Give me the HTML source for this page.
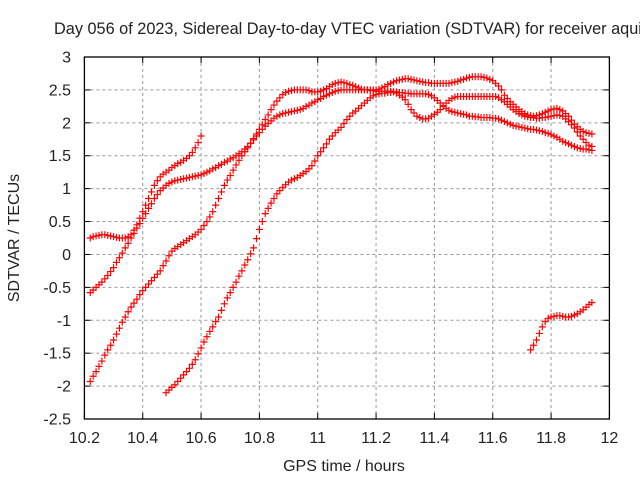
<!DOCTYPE html>
<html><head><meta charset="utf-8"><style>
html,body{margin:0;padding:0;background:#fff;width:640px;height:480px;overflow:hidden}
text{font-family:"Liberation Sans",sans-serif;fill:#222}
</style></head><body>
<svg id="chart" width="640" height="480" xmlns="http://www.w3.org/2000/svg">
<text x="54" y="34" font-size="16.3">Day 056 of 2023, Sidereal Day-to-day VTEC variation (SDTVAR) for receiver aqui</text>
<g id="grid"></g>
<g id="axes"></g>
<g id="series"></g>
<text x="344" y="471" font-size="16" text-anchor="middle">GPS time / hours</text>
<text transform="translate(19,238) rotate(-90)" font-size="16" text-anchor="middle">SDTVAR / TECUs</text>
</svg>
<script>
const xTicks = [10.2,10.4,10.6,10.8,11,11.2,11.4,11.6,11.8,12];
const xTickLabels = ["10.2","10.4","10.6","10.8","11","11.2","11.4","11.6","11.8","12"];
const yTicks = [-2.5,-2,-1.5,-1,-0.5,0,0.5,1,1.5,2,2.5,3];
const yTickLabels = ["-2.5","-2","-1.5","-1","-0.5","0","0.5","1","1.5","2","2.5","3"];
const step = 0.01;
const s1Start = 10.22;
const s1Values = [0.25,0.27,0.28,0.29,0.3,0.3,0.29,0.28,0.27,0.26,0.25,0.25,0.25,0.27,0.3,0.37,0.45,0.55,0.65,0.75,0.85,0.95,1.05,1.12,1.18,1.22,1.25,1.28,1.32,1.35,1.38,1.4,1.43,1.46,1.5,1.55,1.62,1.7,1.8];
const s2Start = 10.22;
const s2Values = [-0.58,-0.54,-0.5,-0.46,-0.42,-0.37,-0.32,-0.26,-0.2,-0.12,-0.05,0.02,0.1,0.17,0.25,0.32,0.4,0.47,0.55,0.62,0.7,0.77,0.85,0.91,0.97,1.01,1.05,1.08,1.1,1.12,1.13,1.14,1.15,1.16,1.17,1.18,1.19,1.2,1.21,1.23,1.25,1.27,1.3,1.32,1.35,1.37,1.4,1.42,1.45,1.47,1.5,1.53,1.56,1.6,1.64,1.69,1.74,1.8,1.85,1.9,1.95,1.99,2.03,2.07,2.1,2.12,2.14,2.15,2.16,2.17,2.18,2.19,2.2,2.22,2.25,2.27,2.3,2.32,2.35,2.37,2.4,2.42,2.44,2.46,2.48,2.49,2.5,2.5,2.5,2.5,2.5,2.5,2.5,2.5,2.5,2.5,2.49,2.49,2.48,2.48,2.48,2.48,2.48,2.48,2.47,2.47,2.46,2.46,2.45,2.45,2.44,2.44,2.44,2.44,2.44,2.44,2.43,2.41,2.38,2.34,2.3,2.26,2.22,2.19,2.17,2.16,2.15,2.14,2.13,2.12,2.1,2.1,2.09,2.09,2.08,2.08,2.08,2.08,2.07,2.07,2.06,2.04,2.02,2.0,1.98,1.96,1.95,1.94,1.93,1.92,1.91,1.9,1.9,1.89,1.88,1.87,1.85,1.84,1.82,1.8,1.78,1.75,1.72,1.7,1.68,1.66,1.64,1.62,1.61,1.6,1.6,1.59,1.58];
const s3Start = 10.22;
const s3Values = [-1.93,-1.85,-1.78,-1.7,-1.62,-1.53,-1.45,-1.38,-1.3,-1.21,-1.12,-1.03,-0.95,-0.87,-0.8,-0.74,-0.68,-0.61,-0.55,-0.5,-0.45,-0.4,-0.35,-0.3,-0.25,-0.17,-0.1,-0.02,0.05,0.09,0.12,0.15,0.18,0.21,0.24,0.27,0.3,0.34,0.38,0.44,0.5,0.57,0.65,0.75,0.85,0.95,1.05,1.13,1.2,1.28,1.36,1.43,1.5,1.56,1.62,1.69,1.76,1.83,1.9,1.97,2.05,2.12,2.2,2.27,2.33,2.38,2.43,2.46,2.48,2.49,2.5,2.5,2.5,2.5,2.5,2.49,2.47,2.47,2.47,2.48,2.5,2.52,2.55,2.58,2.6,2.61,2.62,2.61,2.6,2.58,2.57,2.55,2.53,2.51,2.5,2.5,2.5,2.5,2.5,2.51,2.53,2.55,2.58,2.6,2.62,2.64,2.65,2.66,2.67,2.67,2.66,2.65,2.64,2.63,2.62,2.61,2.61,2.6,2.6,2.6,2.6,2.6,2.6,2.6,2.61,2.62,2.63,2.65,2.66,2.68,2.69,2.7,2.7,2.7,2.7,2.69,2.68,2.66,2.64,2.6,2.56,2.5,2.42,2.37,2.32,2.28,2.24,2.2,2.17,2.14,2.12,2.11,2.1,2.11,2.12,2.14,2.16,2.18,2.2,2.21,2.22,2.2,2.18,2.14,2.1,2.04,1.98,1.94,1.9,1.87,1.85,1.84,1.83];
const s4Start = 10.48;
const s4Values = [-2.1,-2.06,-2.02,-1.98,-1.93,-1.88,-1.83,-1.78,-1.73,-1.67,-1.6,-1.51,-1.42,-1.33,-1.25,-1.17,-1.1,-1.02,-0.95,-0.85,-0.75,-0.66,-0.58,-0.5,-0.42,-0.33,-0.25,-0.16,-0.08,0.01,0.1,0.24,0.38,0.5,0.62,0.7,0.78,0.85,0.92,0.97,1.02,1.06,1.1,1.13,1.15,1.17,1.2,1.23,1.26,1.3,1.35,1.42,1.5,1.56,1.62,1.68,1.75,1.8,1.85,1.89,1.93,1.99,2.05,2.1,2.15,2.18,2.22,2.26,2.3,2.34,2.38,2.41,2.43,2.44,2.45,2.45,2.46,2.46,2.47,2.45,2.42,2.39,2.35,2.28,2.2,2.15,2.1,2.08,2.06,2.06,2.07,2.1,2.13,2.16,2.2,2.25,2.3,2.34,2.37,2.39,2.4,2.4,2.4,2.4,2.4,2.4,2.4,2.4,2.4,2.4,2.4,2.4,2.4,2.4,2.38,2.35,2.32,2.28,2.24,2.2,2.17,2.14,2.12,2.1,2.09,2.08,2.08,2.07,2.07,2.08,2.08,2.09,2.1,2.11,2.12,2.11,2.1,2.06,2.02,1.97,1.92,1.86,1.8,1.75,1.7,1.66,1.64];
const s5Start = 11.73;
const s5Values = [-1.45,-1.38,-1.3,-1.2,-1.1,-1.02,-0.97,-0.95,-0.94,-0.93,-0.93,-0.94,-0.95,-0.95,-0.94,-0.92,-0.9,-0.87,-0.84,-0.8,-0.76,-0.73];

const L=84.4, R=609.4, T=57, B=419;
const xMin=10.2, xMax=12, yMin=-2.5, yMax=3;
function xs(v){return L+(v-xMin)/(xMax-xMin)*(R-L);}
function ys(v){return B-(v-yMin)/(yMax-yMin)*(B-T);}
const NS="http://www.w3.org/2000/svg";
function mk(tag,attrs,parent){const e=document.createElementNS(NS,tag);for(const k in attrs)e.setAttribute(k,attrs[k]);parent.appendChild(e);return e;}
const grid=document.getElementById('grid'), axes=document.getElementById('axes'), ser=document.getElementById('series');
xTicks.forEach((t,i)=>{
  const x=xs(t);
  if(i>0&&i<xTicks.length-1){
    const g=mk('line',{x1:x,x2:x,y1:T,y2:B,stroke:'#999','stroke-dasharray':'3,3','stroke-width':1},grid);
    
    
  }
  const tk=mk('line',{x1:x,x2:x,y1:B,y2:B-6,stroke:'#000'},axes);
  
  
  const tk2=mk('line',{x1:x,x2:x,y1:T,y2:T+6,stroke:'#000'},axes);
  
  
  const lb=mk('text',{x:x,y:443,'font-size':16,'text-anchor':'middle'},axes);
  lb.textContent=xTickLabels[i];
  
  
});
yTicks.forEach((t,i)=>{
  const y=ys(t);
  if(i>0&&i<yTicks.length-1){
    const g=mk('line',{x1:L,x2:R,y1:y,y2:y,stroke:'#999','stroke-dasharray':'3,3','stroke-width':1},grid);
    
    
  }
  const tk=mk('line',{x1:L,x2:L+6,y1:y,y2:y,stroke:'#000'},axes);
  
  
  const tk2=mk('line',{x1:R,x2:R-6,y1:y,y2:y,stroke:'#000'},axes);
  
  
  const lb=mk('text',{x:71,y:y+5.5,'font-size':16,'text-anchor':'end'},axes);
  lb.textContent=yTickLabels[i];
  
  
});
const frame=mk('rect',{x:L,y:T,width:R-L,height:B-T,fill:'none',stroke:'#000','stroke-width':1.3},axes);


const allSeries=[[s1Start,s1Values,'series-1'],[s2Start,s2Values,'series-2'],[s3Start,s3Values,'series-3'],[s4Start,s4Values,'series-4'],[s5Start,s5Values,'series-5']];
allSeries.forEach(([st,vals,name])=>{
  const g=mk('g',{},ser);
  
  
  let d='';
  vals.forEach((v,i)=>{
    const x=xs(st+i*step), y=ys(v);
    d+=`M${x-3.5},${y}h7M${x},${y-3.5}v7`;
  });
  const p=mk('path',{d:d,stroke:'#ff0000','stroke-width':1.2,fill:'none'},g);
  
  
});
</script>
</body></html>
